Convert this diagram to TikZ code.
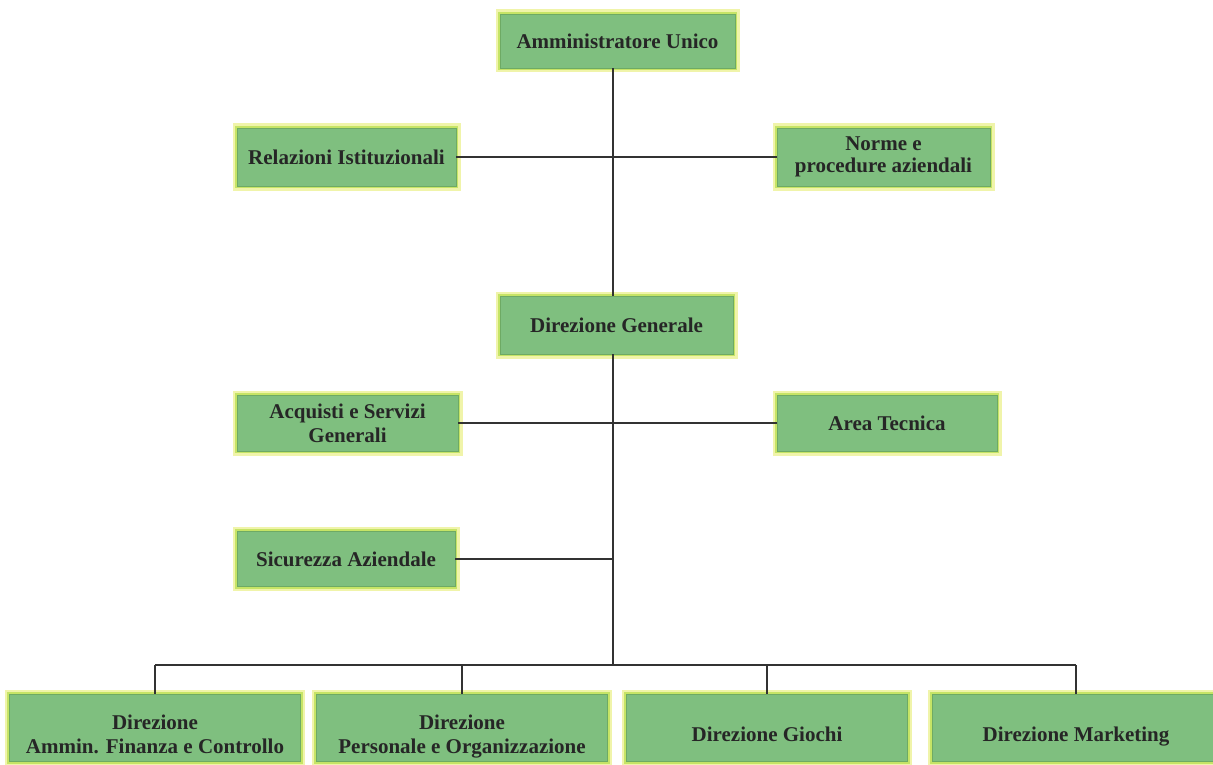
\documentclass[tikz,border=0pt]{standalone}
\usepackage{fontspec}
\setmainfont{Liberation Serif}
\definecolor{boxfill}{RGB}{127,191,127}
\definecolor{boxrim}{RGB}{198,228,102}
\definecolor{boxglow}{RGB}{240,244,170}
\definecolor{boxline}{RGB}{110,170,100}
\definecolor{linkc}{RGB}{50,50,50}
\tikzset{
  orgbox/.style={draw=boxline, line width=0.6pt, fill=boxfill,
    preaction={draw=boxglow, line width=9pt},
    preaction={draw=boxrim, line width=4.5pt},
    align=center, inner sep=0pt, font=\bfseries\fontsize{21}{24}\selectfont, text=black!85},
  lowone/.style={text height=31pt, text depth=5pt},
  lowtwo/.style={text height=55pt, text depth=5pt},
  link/.style={draw=linkc, line width=1.1pt}
}
\begin{document}
\begin{tikzpicture}[x=1pt,y=-1pt]
\useasboundingbox (0,0) rectangle (1213,765);
\fill[white] (0,0) rectangle (1213,765);
\coordinate (spine) at (613,0);
\coordinate (bus) at (613,665);
\node[orgbox, minimum width=235pt, minimum height=54pt] (amm) at (617.5,41) {Amministratore Unico};
\node[orgbox, minimum width=219pt, minimum height=58pt] (rel) at (346.5,157) {Relazioni Istituzionali};
\node[orgbox, minimum width=213pt, minimum height=58pt, font=\bfseries\fontsize{21}{22}\selectfont] (norme) at (883.5,157) {Norme e\\procedure aziendali};
\node[orgbox, minimum width=233pt, minimum height=58pt] (dg) at (616.5,325) {Direzione Generale};
\node[orgbox, minimum width=221pt, minimum height=56pt] (acq) at (347.5,423) {Acquisti e Servizi\\Generali};
\node[orgbox, minimum width=220pt, minimum height=56pt] (area) at (887,423) {Area Tecnica};
\node[orgbox, minimum width=218pt, minimum height=55pt] (sic) at (346,559) {Sicurezza Aziendale};
\node[orgbox, lowtwo, minimum width=291pt, minimum height=67pt] (afc) at (155,728) {Direzione\\Ammin. Finanza e Controllo};
\node[orgbox, lowtwo, minimum width=291pt, minimum height=67pt] (pers) at (462,728) {Direzione\\Personale e Organizzazione};
\node[orgbox, lowone, minimum width=281pt, minimum height=67pt] (gio) at (767,728) {Direzione Giochi};
\node[orgbox, lowone, minimum width=288pt, minimum height=67pt] (mkt) at (1076,728) {Direzione Marketing};
% spine
\draw[link] (amm.south -| spine) -- (dg.north -| spine);
\draw[link] (dg.south -| spine) -- (bus);
% side branches
\draw[link] (rel.east) -- (norme.west);
\draw[link] (acq.east) -- (area.west);
\draw[link] (sic.east) -- (sic.east -| spine);
% bottom bus
\draw[link] (afc.north |- bus) -- (mkt.north |- bus);
\draw[link] (afc.north |- bus) -- (afc.north);
\draw[link] (pers.north |- bus) -- (pers.north);
\draw[link] (gio.north |- bus) -- (gio.north);
\draw[link] (mkt.north |- bus) -- (mkt.north);
\end{tikzpicture}
\end{document}
